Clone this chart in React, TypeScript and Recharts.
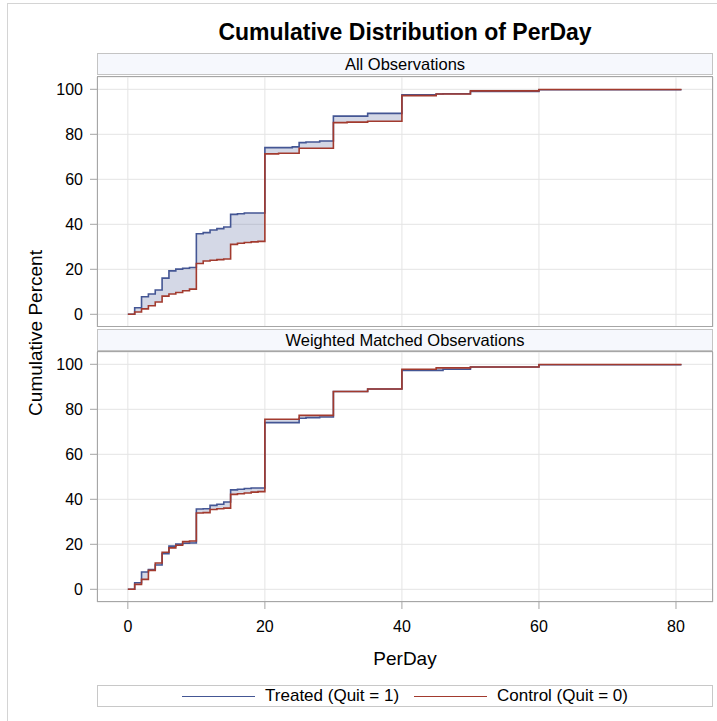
import React from 'react';
import {
  ComposedChart,
  Area,
  Line,
  XAxis,
  YAxis,
  CartesianGrid,
} from 'recharts';

// step positions (PerDay) and cumulative percents
const perDay = [0, 1, 2, 3, 4, 5, 6, 7, 8, 9, 10, 11, 12, 13, 14, 15, 16, 17, 18, 19, 20, 22, 24, 25, 26, 28, 30, 32, 35, 40, 45, 46, 50, 60, 80.8];

const allTreated = [0, 2.9, 7.8, 9.0, 10.8, 16.1, 19.3, 20.1, 20.5, 20.8, 35.8, 36.3, 37.5, 38.1, 38.8, 44.4, 44.7, 45.0, 45.0, 45.0, 74.1, 74.1, 74.4, 76.3, 76.6, 77.0, 88.1, 88.1, 89.3, 97.6, 97.9, 98.0, 99.0, 99.8, 99.8];
const allControl = [0, 1.0, 2.4, 3.8, 5.5, 8.1, 9.0, 9.7, 10.5, 11.2, 22.6, 23.7, 24.0, 24.3, 24.6, 31.1, 31.6, 31.9, 32.2, 32.4, 71.3, 71.6, 71.6, 73.8, 73.8, 73.8, 85.2, 85.4, 85.8, 97.2, 97.9, 97.9, 99.3, 99.9, 99.9];

const wtdTreated = [0, 2.9, 7.7, 8.8, 10.8, 15.8, 19.2, 20.1, 20.5, 20.6, 35.7, 35.8, 37.3, 37.8, 38.8, 44.2, 44.5, 44.8, 45.0, 45.0, 74.1, 74.1, 74.1, 76.0, 76.3, 76.6, 87.9, 87.9, 89.0, 97.3, 97.3, 97.8, 98.8, 99.8, 99.8];
const wtdControl = [0, 2.2, 4.4, 8.4, 11.7, 16.5, 18.4, 19.6, 21.2, 21.5, 33.9, 34.1, 35.5, 35.8, 36.1, 42.2, 42.5, 42.8, 43.2, 43.4, 75.6, 75.6, 75.6, 77.3, 77.3, 77.3, 87.9, 87.9, 89.0, 97.8, 98.4, 98.4, 98.8, 99.9, 99.9];

const xTicks = [0, 20, 40, 60, 80];
const yTicks = [0, 20, 40, 60, 80, 100];

const BLUE = '#445694';
const RED = '#A23A2E';
const FONT = '"Liberation Sans", Arial, sans-serif';

const makeRows = (treated: number[], control: number[]) =>
  perDay.map((x, i) => ({
    x,
    treated: treated[i],
    control: control[i],
    band: [Math.min(treated[i], control[i]), Math.max(treated[i], control[i])],
  }));

const allRows = makeRows(allTreated, allControl);
const wtdRows = makeRows(wtdTreated, wtdControl);

function Panel({ rows, showX }: { rows: any[]; showX: boolean }) {
  return (
    <ComposedChart
      width={717}
      height={showX ? 334 : 256}
      data={rows}
      margin={{ top: 6, right: 4, bottom: showX ? 14 : 0, left: 40 }}
    >
      <CartesianGrid stroke="#e4e4e4" />
      <XAxis
        dataKey="x"
        type="number"
        domain={[-4.5, 85.4]}
        ticks={xTicks}
        allowDataOverflow
        hide={!showX}
        height={64}
        axisLine={false}
        tickLine={{ stroke: '#a6a6a6' }}
        tickSize={7}
        tickMargin={12}
        tick={{ fill: '#000', fontSize: 16, fontFamily: FONT }}
        label={{ value: 'PerDay', position: 'insideBottom', offset: 1, fill: '#000', fontSize: 19, fontFamily: FONT }}
      />
      <YAxis
        type="number"
        domain={[-5.64, 105.47]}
        ticks={yTicks}
        allowDataOverflow
        width={57}
        axisLine={false}
        tickLine={{ stroke: '#a6a6a6' }}
        tickSize={7}
        tickMargin={7}
        tick={{ fill: '#000', fontSize: 16, fontFamily: FONT }}
      />
      <Area
        dataKey="band"
        type="stepAfter"
        fill={BLUE}
        fillOpacity={0.23}
        stroke="none"
        isAnimationActive={false}
      />
      <Line dataKey="treated" type="stepAfter" stroke={BLUE} strokeWidth={1.6} dot={false} activeDot={false} isAnimationActive={false} />
      <Line dataKey="control" type="stepAfter" stroke={RED} strokeWidth={1.6} dot={false} activeDot={false} isAnimationActive={false} />
    </ComposedChart>
  );
}

const stripStyle: React.CSSProperties = {
  position: 'absolute',
  left: 97,
  width: 616,
  height: 22,
  boxSizing: 'border-box',
  border: '1px solid #c4c4c4',
  background: '#f6f8fd',
  fontSize: 16.5,
  lineHeight: '20px',
  textAlign: 'center',
  color: '#000',
};

const frameStyle: React.CSSProperties = {
  position: 'absolute',
  left: 97,
  width: 616,
  height: 251,
  boxSizing: 'border-box',
  border: '1px solid #a6a6a6',
  pointerEvents: 'none',
};

export default function App() {
  return (
    <div
      style={{
        position: 'absolute',
        left: 0,
        top: 0,
        width: 717,
        height: 721,
        overflow: 'hidden',
        background: '#fff',
        fontFamily: FONT,
      }}
    >
      <div style={{ position: 'absolute', left: 7, top: 3, width: 800, height: 800, border: '1px solid #d4d4d4' }} />
      <div style={{ position: 'absolute', left: 97, width: 616, top: 18, textAlign: 'center', fontSize: 23, fontWeight: 'bold', lineHeight: '28px', color: '#000' }}>
        Cumulative Distribution of PerDay
      </div>

      <div style={{ ...stripStyle, top: 53 }}>All Observations</div>
      <div style={{ position: 'absolute', left: 0, top: 71 }}>
        <Panel rows={allRows} showX={false} />
      </div>
      <div style={{ ...frameStyle, top: 76 }} />

      <div style={{ ...stripStyle, top: 329 }}>Weighted Matched Observations</div>
      <div style={{ position: 'absolute', left: 0, top: 346 }}>
        <Panel rows={wtdRows} showX={true} />
      </div>
      <div style={{ ...frameStyle, top: 351 }} />

      <svg style={{ position: 'absolute', left: 0, top: 0 }} width={60} height={721}>
        <text
          transform="translate(42,333) rotate(-90)"
          textAnchor="middle"
          fontSize={19}
          fontFamily={FONT}
          fill="#000"
        >
          Cumulative Percent
        </text>
      </svg>

      <div
        style={{
          position: 'absolute',
          left: 97,
          top: 685,
          width: 616,
          height: 22,
          boxSizing: 'border-box',
          border: '1px solid #c8c8c8',
          display: 'flex',
          justifyContent: 'center',
          alignItems: 'center',
          fontSize: 17,
          color: '#000',
          background: '#fff',
        }}
      >
        <span style={{ display: 'inline-block', width: 73, height: 0, borderTop: `1.5px solid ${BLUE}`, marginRight: 10 }} />
        <span style={{ marginRight: 15 }}>Treated (Quit = 1)</span>
        <span style={{ display: 'inline-block', width: 73, height: 0, borderTop: `1.5px solid ${RED}`, marginRight: 10 }} />
        <span>Control (Quit = 0)</span>
      </div>
    </div>
  );
}
